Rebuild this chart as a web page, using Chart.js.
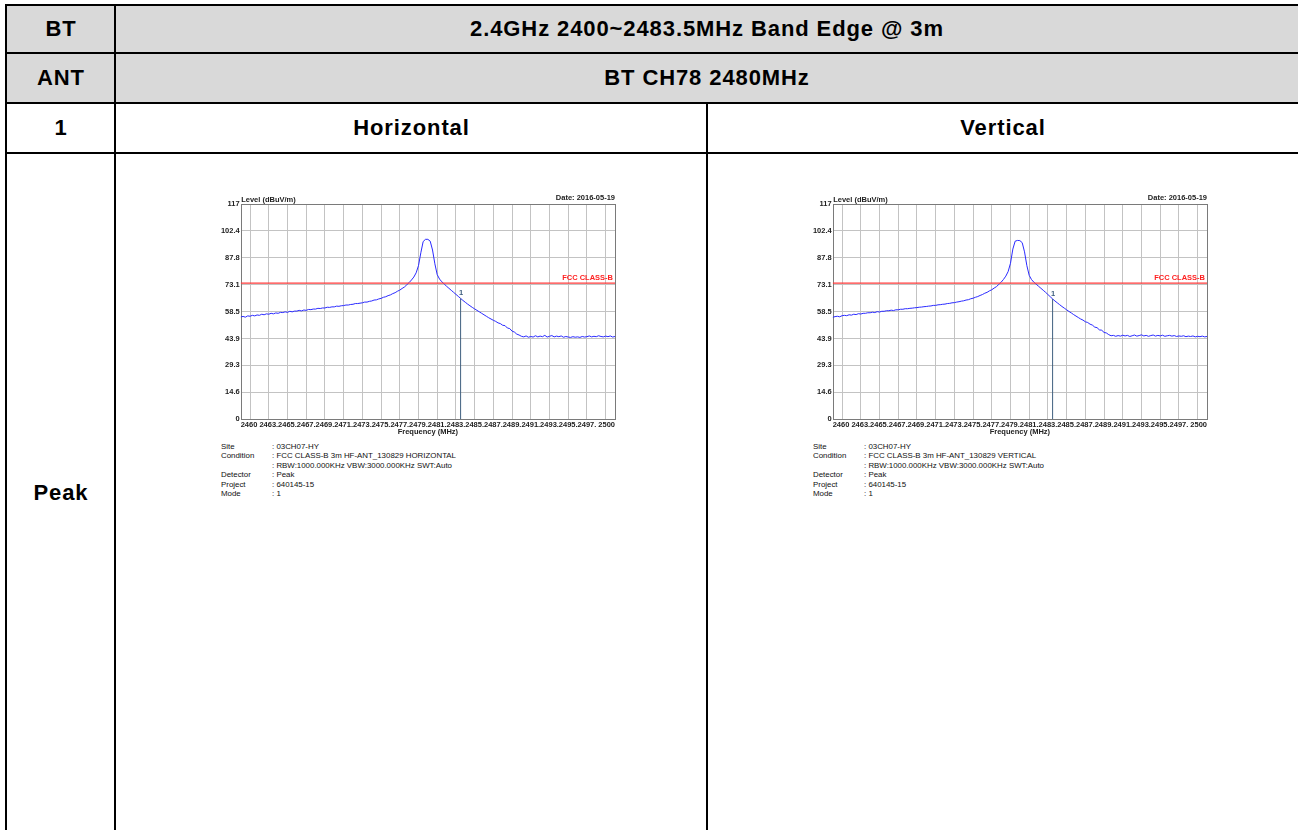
<!DOCTYPE html>
<html>
<head>
<meta charset="utf-8">
<script src="https://cdn.jsdelivr.net/npm/chart.js@4.4.1/dist/chart.umd.min.js"></script>
<style>
  html, body { margin: 0; padding: 0; background: #fff; }
  body { width: 1298px; height: 830px; position: relative; overflow: hidden; font-family: "Liberation Sans", Arial, sans-serif; }
  .ln { position: absolute; background: #000; }
  .gray { position: absolute; background: #d9d9d9; }
  .hd { position: absolute; font-weight: bold; font-size: 22px; letter-spacing: 0.9px; color: #000; transform: translate(-50%, -50%); white-space: nowrap; }
  .cv { position: absolute; }
  .info { position: absolute; font-size: 7.9px; color: #111; white-space: nowrap; line-height: 9.4px; }
</style>
</head>
<body>
<!-- gray header rows -->
<div class="gray" style="left:7px; top:6px; width:1291px; height:96px;"></div>
<!-- horizontal rules -->
<div class="ln" style="left:5px; top:4px; width:1293px; height:2px;"></div>
<div class="ln" style="left:5px; top:52px; width:1293px; height:2px;"></div>
<div class="ln" style="left:5px; top:102px; width:1293px; height:2px;"></div>
<div class="ln" style="left:5px; top:152px; width:1293px; height:2px;"></div>
<!-- vertical rules -->
<div class="ln" style="left:5px; top:4px; width:2px; height:826px;"></div>
<div class="ln" style="left:114px; top:4px; width:2px; height:826px;"></div>
<div class="ln" style="left:706px; top:102px; width:2px; height:728px;"></div>

<div class="hd" style="left:61px; top:29px;">BT</div>
<div class="hd" style="left:707px; top:29px;">2.4GHz 2400~2483.5MHz Band Edge @ 3m</div>
<div class="hd" style="left:61px; top:78px;">ANT</div>
<div class="hd" style="left:707px; top:78px;">BT CH78 2480MHz</div>
<div class="hd" style="left:61px; top:128px;">1</div>
<div class="hd" style="left:411.5px; top:128px;">Horizontal</div>
<div class="hd" style="left:1003px; top:128px;">Vertical</div>
<div class="hd" style="left:61px; top:493px;">Peak</div>

<canvas id="chH" class="cv" style="left:205px; top:186px; width:425px; height:254px;" width="425" height="254"></canvas>
<canvas id="chV" class="cv" style="left:797px; top:186px; width:425px; height:254px;" width="425" height="254"></canvas>

<div class="info" style="left:221px; top:442px;">Site<br>Condition<br>&nbsp;<br>Detector<br>Project<br>Mode</div>
<div class="info" style="left:272px; top:442px;">: 03CH07-HY<br>: FCC CLASS-B 3m HF-ANT_130829 HORIZONTAL<br>: RBW:1000.000KHz VBW:3000.000KHz SWT:Auto<br>: Peak<br>: 640145-15<br>: 1</div>

<div class="info" style="left:813px; top:442px;">Site<br>Condition<br>&nbsp;<br>Detector<br>Project<br>Mode</div>
<div class="info" style="left:864px; top:442px;">: 03CH07-HY<br>: FCC CLASS-B 3m HF-ANT_130829 VERTICAL<br>: RBW:1000.000KHz VBW:3000.000KHz SWT:Auto<br>: Peak<br>: 640145-15<br>: 1</div>

<script>
// ---- data ----
const freqs = [
 2460.00,2460.25,2460.50,2460.75,2461.00,2461.25,2461.50,2461.75,2462.00,2462.25,2462.50,2462.75,
 2463.00,2463.25,2463.50,2463.75,2464.00,2464.25,2464.50,2464.75,2465.00,2465.25,2465.50,2465.75,
 2466.00,2466.25,2466.50,2466.75,2467.00,2467.25,2467.50,2467.75,2468.00,2468.25,2468.50,2468.75,
 2469.00,2469.25,2469.50,2469.75,2470.00,2470.25,2470.50,2470.75,2471.00,2471.25,2471.50,2471.75,
 2472.00,2472.25,2472.50,2472.75,2473.00,2473.25,2473.50,2473.75,2474.00,2474.25,2474.50,2474.75,
 2475.00,2475.25,2475.50,2475.75,2476.00,2476.25,2476.50,2476.75,2477.00,2477.25,2477.50,2477.75,
 2478.00,2478.25,2478.50,2478.75,2479.00,2479.25,2479.50,2479.75,2480.00,2480.25,2480.50,2480.75,
 2481.00,2481.25,2481.50,2481.75,2482.00,2482.25,2482.50,2482.75,2483.00,2483.25,2483.50,2483.75,
 2484.00,2484.25,2484.50,2484.75,2485.00,2485.25,2485.50,2485.75,2486.00,2486.25,2486.50,2486.75,
 2487.00,2487.25,2487.50,2487.75,2488.00,2488.25,2488.50,2488.75,2489.00,2489.25,2489.50,2489.75,
 2490.00,2490.25,2490.50,2490.75,2491.00,2491.25,2491.50,2491.75,2492.00,2492.25,2492.50,2492.75,
 2493.00,2493.25,2493.50,2493.75,2494.00,2494.25,2494.50,2494.75,2495.00,2495.25,2495.50,2495.75,
 2496.00,2496.25,2496.50,2496.75,2497.00,2497.25,2497.50,2497.75,2498.00,2498.25,2498.50,2498.75,
 2499.00,2499.25,2499.50,2499.75,2500.00
];
const levelsHorizontal = [
 55.6,55.9,55.5,56.2,56.0,56.5,56.2,56.7,56.5,57.1,56.8,57.3,
 57.1,57.6,57.3,57.8,57.6,58.1,58.0,58.4,58.1,58.7,58.4,58.8,
 58.8,59.2,58.9,59.4,59.2,59.7,59.6,59.9,59.9,60.3,60.2,60.5,
 60.5,60.9,60.8,61.1,61.1,61.5,61.4,61.7,61.8,62.1,62.1,62.4,
 62.5,62.9,62.9,63.1,63.3,63.7,63.7,64.1,64.3,64.8,64.9,65.4,
 65.7,66.3,66.6,67.2,67.6,68.3,68.8,69.6,70.2,71.1,71.9,73.1,
 74.3,75.7,77.3,79.6,83.5,90.5,96.6,97.8,97.8,96.8,92.0,84.5,
 78.6,76.2,74.7,73.5,72.3,71.2,70.1,69.0,67.9,66.8,65.7,64.6,
 63.6,62.6,61.7,60.8,60.0,59.2,58.4,57.6,56.8,56.0,55.2,54.5,
 53.8,53.2,52.4,52.0,51.1,50.9,49.6,49.3,47.9,47.4,46.3,45.8,
 45.1,44.8,45.3,44.6,45.0,44.7,45.4,44.8,45.2,44.9,45.6,44.7,
 45.1,45.5,44.8,45.2,44.9,45.3,44.6,45.0,44.7,44.5,44.9,44.6,
 44.8,44.5,45.0,44.7,44.9,45.3,44.8,45.1,44.9,45.4,45.0,44.8,
 45.2,44.9,45.3,44.7,45.0
];
const levelsVertical = [
 55.4,55.8,56.0,55.7,56.3,56.5,56.3,56.8,56.6,57.1,56.9,57.4,
 57.2,57.6,57.6,57.9,57.9,58.2,58.0,58.5,58.3,58.7,58.7,59.0,
 59.0,59.3,59.1,59.5,59.5,59.8,59.8,60.1,60.1,60.3,60.4,60.6,
 60.7,60.9,61.0,61.2,61.3,61.5,61.6,61.9,61.9,62.2,62.3,62.5,
 62.6,62.9,63.0,63.3,63.4,63.7,63.9,64.2,64.4,64.8,65.0,65.5,
 65.8,66.3,66.7,67.3,67.8,68.5,69.0,69.8,70.4,71.3,72.1,73.3,
 74.5,76.0,77.8,80.3,84.8,92.5,96.8,97.2,97.1,96.0,91.0,83.5,
 78.2,75.9,74.5,73.4,72.3,71.2,70.1,69.0,67.8,66.6,65.4,64.3,
 63.3,62.3,61.3,60.4,59.5,58.6,57.8,56.9,56.1,55.3,54.5,53.9,
 53.0,52.6,51.7,51.2,50.1,49.8,48.6,48.4,47.2,46.9,46.0,45.4,
 45.6,45.1,45.5,45.2,45.7,45.3,45.6,45.0,45.4,45.8,45.2,45.5,
 45.9,45.3,45.6,45.1,45.5,45.8,45.2,45.6,45.3,45.7,45.1,45.4,
 45.6,45.2,45.5,45.0,45.3,45.1,45.4,44.9,45.2,45.0,45.3,44.8,
 45.1,44.9,45.2,44.8,45.0
];
const limitFreqs = [2460, 2500];
const limitLevels = [74, 74];
const markerFreq = 2483.5;
const markerLevelHorizontal = 65.7;
const markerLevelVertical = 65.4;
const yTickValues = [0, 14.6, 29.3, 43.9, 58.5, 73.1, 87.8, 102.4, 117];
const yTickLabels = ['0', '14.6', '29.3', '43.9', '58.5', '73.1', '87.8', '102.4', '117'];
const xTickValues = [2460, 2461, 2463, 2465, 2467, 2469, 2471, 2473, 2475, 2477, 2479, 2481, 2483, 2485, 2487, 2489, 2491, 2493, 2495, 2497, 2499, 2500];
const xTickLabels = ['2460', '', '2463.', '2465.', '2467.', '2469.', '2471.', '2473.', '2475.', '2477.', '2479.', '2481.', '2483.', '2485.', '2487.', '2489.', '2491.', '2493.', '2495.', '2497.', '', '2500'];
const limitName = 'FCC CLASS-B';
const markerName = '1';
const yTitle = 'Level (dBuV/m)';
const xTitle = 'Frequency (MHz)';
const dateText = 'Date: 2016-05-19';

// ---- chart ----
const FONT = '"Liberation Sans", Arial, sans-serif';

const decor = {
  id: 'decor',
  beforeDatasetsDraw(chart) {
    const { ctx, chartArea: a } = chart;
    ctx.save();
    ctx.strokeStyle = '#7a7a7a';
    ctx.lineWidth = 1;
    ctx.strokeRect(Math.round(a.left) + 0.5, Math.round(a.top) + 0.5, Math.round(a.right - a.left), Math.round(a.bottom - a.top));
    ctx.restore();
  },
  afterDraw(chart) {
    const { ctx, chartArea: a, scales } = chart;
    const opt = chart.options.plugins.decor;
    ctx.save();
    ctx.fillStyle = '#222';
    ctx.font = 'bold 7.5px ' + FONT;
    ctx.textBaseline = 'middle';
    ctx.textAlign = 'left';
    ctx.fillText(yTitle, a.left + 0.5, a.top - 4);
    ctx.textAlign = 'right';
    ctx.fillText(dateText, a.right, a.top - 6);
    ctx.textAlign = 'center';
    ctx.fillText(xTitle, (a.left + a.right) / 2, a.bottom + 13);
    // limit label
    ctx.fillStyle = '#ff2020';
    ctx.textAlign = 'right';
    ctx.font = 'bold 7.5px ' + FONT;
    ctx.fillText(limitName, a.right - 2, scales.y.getPixelForValue(limitLevels[1]) - 5);
    // marker label
    ctx.fillStyle = '#3f5f7f';
    ctx.textAlign = 'center';
    ctx.font = 'bold 7.5px ' + FONT;
    ctx.fillText(markerName, scales.x.getPixelForValue(markerFreq) + 0.5, scales.y.getPixelForValue(opt.markerLevel) - 5);
    ctx.restore();
  }
};

function makeChart(id, levels, markerLevel) {
  const pts = freqs.map((f, i) => ({ x: f, y: levels[i] }));
  const limitPts = limitFreqs.map((f, i) => ({ x: f, y: limitLevels[i] }));
  const markerPts = [{ x: markerFreq, y: 0 }, { x: markerFreq, y: markerLevel }];
  return new Chart(document.getElementById(id), {
    type: 'line',
    data: {
      datasets: [
        { data: markerPts, borderColor: '#3f5f7f', borderWidth: 1, pointRadius: 0, tension: 0 },
        { data: limitPts, borderColor: '#ff3b3b', borderWidth: 1.2, pointRadius: 0, tension: 0 },
        { data: pts, borderColor: '#2a2aff', borderWidth: 1, pointRadius: 0, tension: 0 }
      ]
    },
    options: {
      responsive: false,
      animation: false,
      devicePixelRatio: 1,
      layout: { padding: { left: 0, right: 15, top: 18, bottom: 0 } },
      plugins: {
        legend: { display: false },
        tooltip: { enabled: false },
        decor: { markerLevel: markerLevel }
      },
      scales: {
        x: {
          type: 'linear', min: 2460, max: 2500,
          afterBuildTicks: (s) => { s.ticks = xTickValues.map(v => ({ value: v })); },
          afterFit: (s) => { s.height = 20.7; },
          grid: {
            drawTicks: false,
            color: (c) => (c.tick && (c.tick.value === 2460 || c.tick.value === 2500)) ? 'rgba(0,0,0,0)' : '#c3c3c3',
            lineWidth: 1
          },
          border: { display: false },
          ticks: {
            autoSkip: false, maxRotation: 0, minRotation: 0, align: 'inner', padding: 1,
            color: '#222', font: { family: FONT, size: 7.5, weight: 'bold' },
            callback: (v, i) => xTickLabels[i]
          }
        },
        y: {
          min: 0, max: 117,
          afterBuildTicks: (s) => { s.ticks = yTickValues.map(v => ({ value: v })); },
          afterFit: (s) => { s.width = 35.7; },
          grid: {
            drawTicks: false,
            color: (c) => (c.tick && (c.tick.value === 0 || c.tick.value === 117)) ? 'rgba(0,0,0,0)' : '#c3c3c3',
            lineWidth: 1
          },
          border: { display: false },
          ticks: {
            padding: 1, color: '#222', font: { family: FONT, size: 7.5, weight: 'bold' },
            callback: (v, i) => yTickLabels[i]
          }
        }
      }
    },
    plugins: [decor]
  });
}

makeChart('chH', levelsHorizontal, markerLevelHorizontal);
makeChart('chV', levelsVertical, markerLevelVertical);
</script>
</body>
</html>
